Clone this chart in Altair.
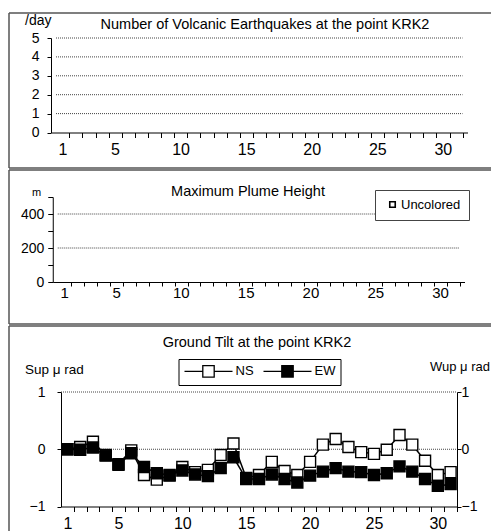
import altair as alt
import pandas as pd

# ---------------- data ----------------
days = list(range(1, 32))
day_labels = [1, 5, 10, 15, 20, 25, 30]

quake_counts = [0, 0, 0, 0, 0, 0, 0, 0, 0, 0, 0, 0, 0, 0, 0, 0,
                0, 0, 0, 0, 0, 0, 0, 0, 0, 0, 0, 0, 0, 0, 0]
quake_ticks = [0, 1, 2, 3, 4, 5]
quake_grid = [1, 2, 3, 4, 5]

plume_days = []
plume_heights = []
plume_kinds = []
plume_legend = ["Uncolored"]
plume_ticks = [0, 100, 200, 300, 400, 500]
plume_tick_labels = [0, 200, 400]
plume_grid = [200, 400]

series_names = ["NS", "EW"]
ns_tilt = [0.00, 0.04, 0.13, -0.10, -0.26, -0.02, -0.45, -0.53, -0.46, -0.31,
           -0.40, -0.36, -0.10, 0.10, -0.50, -0.45, -0.22, -0.38, -0.45, -0.22,
           0.08, 0.18, 0.04, -0.05, -0.08, -0.01, 0.25, 0.08, -0.20, -0.45, -0.40]
ew_tilt = [0.00, -0.01, 0.03, -0.11, -0.27, -0.07, -0.31, -0.42, -0.45, -0.37,
           -0.44, -0.47, -0.33, -0.14, -0.52, -0.52, -0.44, -0.52, -0.58, -0.46,
           -0.39, -0.33, -0.39, -0.40, -0.45, -0.42, -0.30, -0.39, -0.52, -0.64, -0.61]
tilt_domain = [-1, 1]
tilt_grid = [0, 1]

titles = ["Number of Volcanic Earthquakes at the point KRK2",
          "Maximum Plume Height",
          "Ground Tilt at the point KRK2"]
units = ["/day", "m", "Sup \u03bc rad", "Wup \u03bc rad"]

# ---------------- style ----------------
FONT = "Liberation Sans"
BORDER = "#555555"
GRIDC = "#444444"
W = 482
H1, H2, H3 = 155, 154, 205

quake_df = pd.DataFrame({"day": days, "count": quake_counts})
plume_df = pd.DataFrame({"day": pd.Series(plume_days, dtype=float),
                         "height": pd.Series(plume_heights, dtype=float),
                         "kind": pd.Series(plume_kinds, dtype=object)})
tilt_df = pd.DataFrame({
    "day": days + days,
    "tilt": ns_tilt + ew_tilt,
    "series": [series_names[0]] * len(days) + [series_names[1]] * len(days),
})
one = pd.DataFrame({"k": [0]})


def grid_df(vals, col):
    return pd.DataFrame({col: vals, "x0": [0.5] * len(vals), "x1": [31.5] * len(vals)})


def frame(h, bottom=True):
    base = alt.Chart(one)
    out = [
        base.mark_rule(color=BORDER, strokeWidth=1.5).encode(
            x=alt.value(0), x2=alt.value(W), y=alt.value(0)),
        base.mark_rule(color=BORDER, strokeWidth=1.5).encode(
            x=alt.value(0), y=alt.value(0), y2=alt.value(h)),
    ]
    if bottom:
        out.append(base.mark_rule(color=BORDER, strokeWidth=1.5).encode(
            x=alt.value(0), x2=alt.value(W), y=alt.value(h)))
    return out


def label(text, x, y, size=14, align="left"):
    return alt.Chart(pd.DataFrame({"t": [text]})).mark_text(
        font=FONT, fontSize=size, align=align, baseline="middle", color="black"
    ).encode(text="t:N", x=alt.value(x), y=alt.value(y))


def day_axis(offset, half, size, pad, tick=5):
    return alt.Axis(orient="bottom", offset=offset, values=days, tickCount=31,
                    tickOffset=half, labelOffset=-half, tickSize=tick,
                    labelExpr="indexof([1,5,10,15,20,25,30], datum.value) >= 0 ? datum.label : ''",
                    labelFontSize=size, labelPadding=pad, labelFlush=False,
                    labelOverlap=False, domainColor="black", tickColor="black",
                    labelColor="black", labelFont=FONT, grid=False, title=None)


def yaxis(orient, offset, size, tick, pad, values=None, count=None, expr=None):
    kw = dict(orient=orient, offset=offset, tickSize=tick, labelPadding=pad,
              labelFontSize=size, format="d", domainColor="black",
              tickColor="black", labelColor="black", labelFont=FONT,
              grid=False, title=None, labelOverlap=False, labelFlush=False)
    if values is not None:
        kw["values"] = values
        kw["tickCount"] = len(values)
    if count is not None:
        kw["tickCount"] = count
    if expr:
        kw["labelExpr"] = expr
    return alt.Axis(**kw)


# ---------------- panel 1 ----------------
x1s = alt.Scale(domain=[0.5, 31.5], range=[42, 458.5], nice=False, zero=False)
y1s = alt.Scale(domain=[0, 5], range=[119.5, 25], nice=False, zero=False)
half1 = (458.5 - 42) / 31 / 2
ax1x = day_axis(119.5 - H1, half1, 16, 4)
ax1y = yaxis("left", -42, 14, 4, 8, values=quake_ticks)

grid1 = alt.Chart(grid_df(quake_grid, "v")).mark_rule(
    color=GRIDC, strokeDash=[1, 1], strokeWidth=1).encode(
    y=alt.Y("v:Q", scale=y1s, axis=ax1y),
    x=alt.X("x0:Q", scale=x1s, axis=ax1x), x2="x1:Q")
bars1 = alt.Chart(quake_df).mark_bar(color="black", size=8).encode(
    x=alt.X("day:Q", scale=x1s, axis=ax1x),
    y=alt.Y("count:Q", scale=y1s, axis=ax1y))
panel1 = alt.layer(
    *frame(H1), grid1, bars1,
    label(titles[0], 256, 12, 14.5, "center"),
    label(units[0], 16, 8, 14),
).properties(width=W, height=H1)

# ---------------- panel 2 ----------------
x2s = alt.Scale(domain=[0.5, 31.5], range=[43.75, 455.5], nice=False, zero=False)
y2s = alt.Scale(domain=[0, 500], range=[112, 27], nice=False, zero=False)
half2 = (455.5 - 43.75) / 31 / 2
ax2x = day_axis(112 - H2, half2, 15, -0.5, tick=4)
ax2y = yaxis("left", -43.75, 14, 5, 4, values=plume_ticks,
             expr="indexof([0,200,400], datum.value) >= 0 ? datum.label : ''")

grid2 = alt.Chart(grid_df(plume_grid, "v")).mark_rule(
    color=GRIDC, strokeDash=[1, 1], strokeWidth=1).encode(
    y=alt.Y("v:Q", scale=y2s, axis=ax2y),
    x=alt.X("x0:Q", scale=x2s, axis=ax2x), x2="x1:Q")
bars2 = alt.Chart(plume_df).mark_bar(stroke="black", size=8).encode(
    x=alt.X("day:Q", scale=x2s, axis=ax2x),
    y=alt.Y("height:Q", scale=y2s, axis=ax2y),
    fill=alt.Fill("kind:N", scale=alt.Scale(domain=plume_legend, range=["white"]),
                  legend=alt.Legend(title=None, orient="none", legendX=366,
                                    legendY=20, symbolType="square",
                                    symbolSize=30, symbolStrokeColor="black",
                                    symbolStrokeWidth=1.6, symbolOffset=3,
                                    labelFont=FONT, labelFontSize=13,
                                    labelColor="black", labelOffset=2,
                                    strokeColor="#444444", fillColor="white",
                                    padding=8)))
panel2 = alt.layer(
    *frame(H2), grid2, bars2,
    label(titles[1], 239, 22, 14.5, "center"),
    label(units[1], 23, 23, 11),
).properties(width=W, height=H2)

# ---------------- panel 3 ----------------
y3_bottom = 180.5
x3s = alt.Scale(domain=[0.5, 31.5], range=[52, 448], nice=False, zero=False)
y3s = alt.Scale(domain=tilt_domain, range=[y3_bottom, 66], nice=False, zero=False)
half3 = (448 - 52) / 31 / 2
ax3x = day_axis(y3_bottom - H3, half3, 16, 4)
ax3l = yaxis("left", -52, 14, 4, 12, count=2)
ax3r = yaxis("right", 448 - W, 14, 4, 0, count=2)

sym_path = "M-4,0H-0.95M0.95,0H4M-0.95,-0.95H0.95V0.95H-0.95Z"
fill3 = alt.Fill("series:N", scale=alt.Scale(domain=series_names, range=["white", "black"]),
                 legend=alt.Legend(title=None, orient="none", direction="horizontal",
                                   legendX=169.5, legendY=33, symbolType=sym_path,
                                   symbolSize=144, symbolStrokeColor="black",
                                   symbolStrokeWidth=1.3, symbolOffset=18,
                                   labelFont=FONT, labelFontSize=13,
                                   labelColor="black", labelOffset=20,
                                   columnPadding=6, strokeColor="black",
                                   fillColor="white", padding=5))

x3 = alt.X("day:Q", scale=x3s, axis=ax3x)
y3 = alt.Y("tilt:Q", scale=y3s, axis=ax3l)

tb = alt.Chart(tilt_df)
ns_line = tb.transform_filter(alt.datum.series == "NS").mark_line(
    color="black", strokeWidth=1.5).encode(x=x3, y=y3)
ns_pts = tb.transform_filter(alt.datum.series == "NS").mark_square(
    size=121, stroke="black", strokeWidth=1.4, opacity=1).encode(x=x3, y=y3, fill=fill3)
ew_line = tb.transform_filter(alt.datum.series == "EW").mark_line(
    color="black", strokeWidth=1.5).encode(x=x3, y=y3)
ew_pts = tb.transform_filter(alt.datum.series == "EW").mark_square(
    size=121, stroke="black", strokeWidth=1.4, opacity=1).encode(x=x3, y=y3, fill=fill3)
main3 = alt.layer(ns_line, ns_pts, ew_line, ew_pts)

grid3 = alt.Chart(grid_df(tilt_grid, "g")).mark_rule(
    color=GRIDC, strokeDash=[1, 1], strokeWidth=1).encode(
    y=alt.Y("g:Q", scale=y3s, axis=ax3r),
    x=alt.X("x0:Q", scale=x3s, axis=ax3x), x2="x1:Q")

panel3 = alt.layer(
    *frame(H3, bottom=False), grid3, main3,
    label(titles[2], 248, 16.5, 14.5, "center"),
    label(units[2], 16, 43.5, 13.5),
    label(units[3], 481, 41, 13, "right"),
).resolve_scale(y="independent").properties(width=W, height=H3)

chart = alt.vconcat(panel1, panel2, panel3, spacing=0).resolve_scale(
    fill="independent"
).properties(
    padding={"left": 0, "top": 4, "right": 0, "bottom": 0}
).configure_view(strokeWidth=0).configure_text(font=FONT)

chart.save("out.html", embed_options={"renderer": "svg", "actions": False})
